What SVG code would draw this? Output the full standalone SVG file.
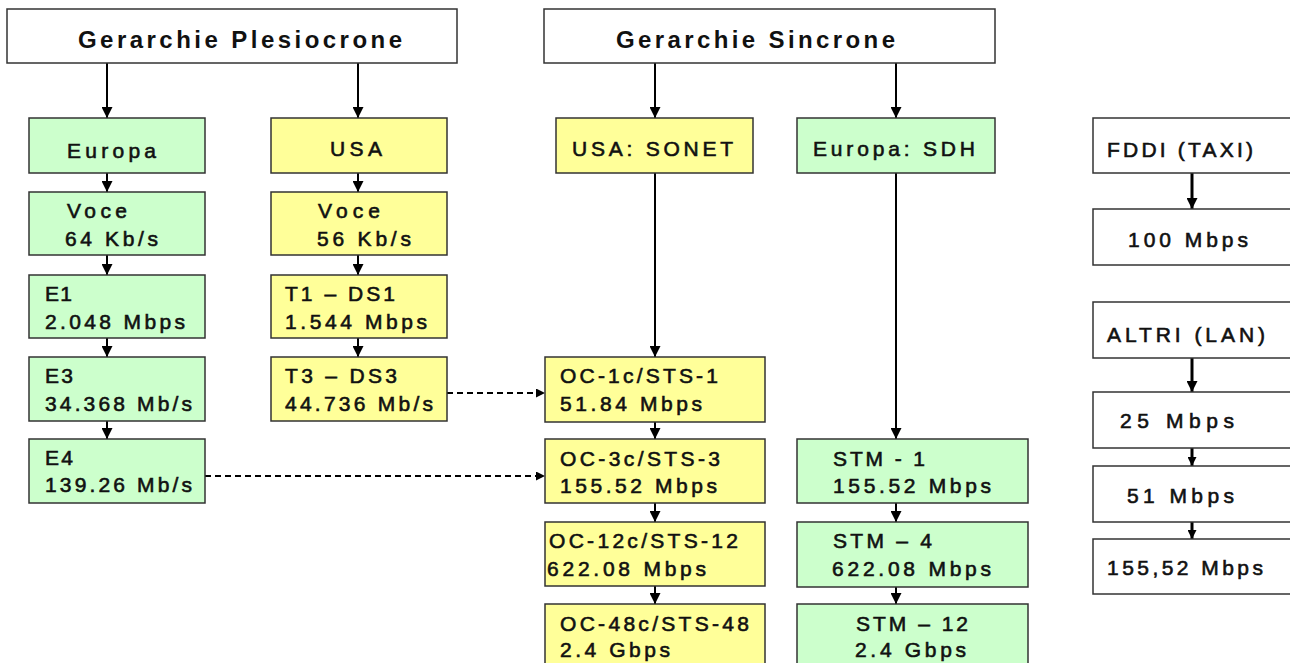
<svg xmlns="http://www.w3.org/2000/svg" width="1290" height="663" viewBox="0 0 1290 663">
<defs>
<style>
.box{stroke:#333;stroke-width:1.5}
.w{fill:#fff}
.g{fill:#ccffcc}
.y{fill:#ffff99}
text{font-family:"Liberation Sans",Arial,sans-serif;font-size:21px;font-weight:normal;fill:#111;stroke:#111;stroke-width:0.6}
.t{font-size:24px;font-weight:bold;stroke:none}
.c{stroke:#000;stroke-width:2;fill:none}
.cr{stroke:#000;stroke-width:3;fill:none}
.d{stroke:#000;stroke-width:2;fill:none;stroke-dasharray:6 4}
</style>
<marker id="ah" markerUnits="userSpaceOnUse" viewBox="0 0 10 10" refX="10" refY="5" markerWidth="11" markerHeight="11" orient="auto"><path d="M0,0 L10,5 L0,10 z" fill="#000"/></marker>
<marker id="ahs" markerUnits="userSpaceOnUse" viewBox="0 0 10 10" refX="10" refY="5" markerWidth="9" markerHeight="9" orient="auto"><path d="M0,0 L10,5 L0,10 z" fill="#000"/></marker>
</defs>
<rect width="1290" height="663" fill="#fff"/>

<g id="connectors">
<line class="c" x1="107" y1="63" x2="107" y2="118" marker-end="url(#ah)"/>
<line class="c" x1="358" y1="63" x2="358" y2="118" marker-end="url(#ah)"/>
<line class="c" x1="655" y1="63" x2="655" y2="118" marker-end="url(#ah)"/>
<line class="c" x1="896" y1="63" x2="896" y2="118" marker-end="url(#ah)"/>
<line class="c" x1="107" y1="173" x2="107" y2="192" marker-end="url(#ah)"/>
<line class="c" x1="107" y1="255" x2="107" y2="275" marker-end="url(#ah)"/>
<line class="c" x1="107" y1="338" x2="107" y2="357" marker-end="url(#ah)"/>
<line class="c" x1="107" y1="421" x2="107" y2="439" marker-end="url(#ah)"/>
<line class="c" x1="358" y1="173" x2="358" y2="192" marker-end="url(#ah)"/>
<line class="c" x1="358" y1="255" x2="358" y2="275" marker-end="url(#ah)"/>
<line class="c" x1="358" y1="338" x2="358" y2="357" marker-end="url(#ah)"/>
<line class="c" x1="655" y1="173" x2="655" y2="357" marker-end="url(#ah)"/>
<line class="c" x1="655" y1="422" x2="655" y2="439" marker-end="url(#ah)"/>
<line class="c" x1="655" y1="503" x2="655" y2="522" marker-end="url(#ah)"/>
<line class="c" x1="655" y1="586" x2="655" y2="604" marker-end="url(#ah)"/>
<line class="c" x1="896" y1="173" x2="896" y2="439" marker-end="url(#ah)"/>
<line class="c" x1="896" y1="503" x2="896" y2="522" marker-end="url(#ah)"/>
<line class="c" x1="896" y1="587" x2="896" y2="604" marker-end="url(#ah)"/>
<line class="d" x1="447" y1="393" x2="545" y2="393" marker-end="url(#ahs)"/>
<line class="d" x1="205" y1="476" x2="545" y2="476" marker-end="url(#ahs)"/>
<line class="cr" x1="1192" y1="173" x2="1192" y2="209" marker-end="url(#ah)"/>
<line class="cr" x1="1192" y1="358" x2="1192" y2="392" marker-end="url(#ah)"/>
<line class="cr" x1="1192" y1="448" x2="1192" y2="466" marker-end="url(#ahs)"/>
<line class="cr" x1="1192" y1="522" x2="1192" y2="539" marker-end="url(#ahs)"/>
</g>

<g id="plesiocrone"><rect class="box w" x="7" y="9" width="450" height="54"/><text class="t" x="78" y="48" textLength="324" lengthAdjust="spacing">Gerarchie Plesiocrone</text></g>
<g id="sincrone"><rect class="box w" x="544" y="9" width="451" height="54"/><text class="t" x="616" y="48" textLength="279" lengthAdjust="spacing">Gerarchie Sincrone</text></g>

<g id="europa"><rect class="box g" x="29" y="118" width="176" height="55"/><text x="67" y="158" textLength="89" lengthAdjust="spacing">Europa</text></g>
<g id="voce-eu"><rect class="box g" x="29" y="192" width="176" height="63"/><text x="67" y="218" textLength="60" lengthAdjust="spacing">Voce</text><text x="65" y="246" textLength="93" lengthAdjust="spacing">64 Kb/s</text></g>
<g id="e1"><rect class="box g" x="29" y="275" width="176" height="63"/><text x="45" y="301" textLength="27" lengthAdjust="spacing">E1</text><text x="45" y="329" textLength="140" lengthAdjust="spacing">2.048 Mbps</text></g>
<g id="e3"><rect class="box g" x="29" y="357" width="176" height="64"/><text x="45" y="383" textLength="28" lengthAdjust="spacing">E3</text><text x="45" y="411" textLength="147" lengthAdjust="spacing">34.368 Mb/s</text></g>
<g id="e4"><rect class="box g" x="29" y="439" width="176" height="64"/><text x="45" y="465" textLength="28" lengthAdjust="spacing">E4</text><text x="45" y="492" textLength="147" lengthAdjust="spacing">139.26 Mb/s</text></g>

<g id="usa"><rect class="box y" x="271" y="118" width="176" height="55"/><text x="330" y="156" textLength="52" lengthAdjust="spacing">USA</text></g>
<g id="voce-usa"><rect class="box y" x="271" y="192" width="176" height="63"/><text x="318" y="218" textLength="62" lengthAdjust="spacing">Voce</text><text x="317" y="246" textLength="94" lengthAdjust="spacing">56 Kb/s</text></g>
<g id="t1"><rect class="box y" x="271" y="275" width="176" height="63"/><text x="285" y="301" textLength="110" lengthAdjust="spacing">T1 – DS1</text><text x="285" y="329" textLength="142" lengthAdjust="spacing">1.544 Mbps</text></g>
<g id="t3"><rect class="box y" x="271" y="357" width="176" height="64"/><text x="285" y="383" textLength="112" lengthAdjust="spacing">T3 – DS3</text><text x="285" y="411" textLength="148" lengthAdjust="spacing">44.736 Mb/s</text></g>

<g id="sonet"><rect class="box y" x="556" y="118" width="197" height="55"/><text x="572" y="156" textLength="161" lengthAdjust="spacing">USA: SONET</text></g>
<g id="oc1"><rect class="box y" x="545" y="357" width="220" height="65"/><text x="560" y="383" textLength="158" lengthAdjust="spacing">OC-1c/STS-1</text><text x="560" y="411" textLength="142" lengthAdjust="spacing">51.84 Mbps</text></g>
<g id="oc3"><rect class="box y" x="545" y="439" width="220" height="64"/><text x="560" y="466" textLength="160" lengthAdjust="spacing">OC-3c/STS-3</text><text x="560" y="493" textLength="157" lengthAdjust="spacing">155.52 Mbps</text></g>
<g id="oc12"><rect class="box y" x="545" y="522" width="220" height="64"/><text x="549" y="548" textLength="189" lengthAdjust="spacing">OC-12c/STS-12</text><text x="547" y="576" textLength="159" lengthAdjust="spacing">622.08 Mbps</text></g>
<g id="oc48"><rect class="box y" x="545" y="604" width="220" height="70"/><text x="560" y="631" textLength="189" lengthAdjust="spacing">OC-48c/STS-48</text><text x="560" y="657" textLength="110" lengthAdjust="spacing">2.4 Gbps</text></g>

<g id="sdh"><rect class="box g" x="797" y="118" width="198" height="55"/><text x="813" y="156" textLength="162" lengthAdjust="spacing">Europa: SDH</text></g>
<g id="stm1"><rect class="box g" x="797" y="439" width="231" height="64"/><text x="833" y="466" textLength="92" lengthAdjust="spacing">STM - 1</text><text x="833" y="493" textLength="158" lengthAdjust="spacing">155.52 Mbps</text></g>
<g id="stm4"><rect class="box g" x="797" y="522" width="231" height="65"/><text x="833" y="548" textLength="99" lengthAdjust="spacing">STM – 4</text><text x="832" y="576" textLength="159" lengthAdjust="spacing">622.08 Mbps</text></g>
<g id="stm12"><rect class="box g" x="797" y="604" width="231" height="70"/><text x="856" y="631" textLength="112" lengthAdjust="spacing">STM – 12</text><text x="855" y="657" textLength="111" lengthAdjust="spacing">2.4 Gbps</text></g>

<g id="fddi"><rect class="box w" x="1093" y="118" width="210" height="55"/><text x="1107" y="157" textLength="146" lengthAdjust="spacing">FDDI (TAXI)</text></g>
<g id="m100"><rect class="box w" x="1093" y="209" width="210" height="56"/><text x="1128" y="247" textLength="120" lengthAdjust="spacing">100 Mbps</text></g>
<g id="altri"><rect class="box w" x="1093" y="302" width="210" height="56"/><text x="1107" y="342" textLength="158" lengthAdjust="spacing">ALTRI (LAN)</text></g>
<g id="m25"><rect class="box w" x="1093" y="392" width="210" height="56"/><text x="1120" y="428" textLength="114" lengthAdjust="spacing">25 Mbps</text></g>
<g id="m51"><rect class="box w" x="1093" y="466" width="210" height="56"/><text x="1127" y="503" textLength="107" lengthAdjust="spacing">51 Mbps</text></g>
<g id="m155"><rect class="box w" x="1093" y="539" width="210" height="55"/><text x="1107" y="575" textLength="156" lengthAdjust="spacing">155,52 Mbps</text></g>
</svg>
